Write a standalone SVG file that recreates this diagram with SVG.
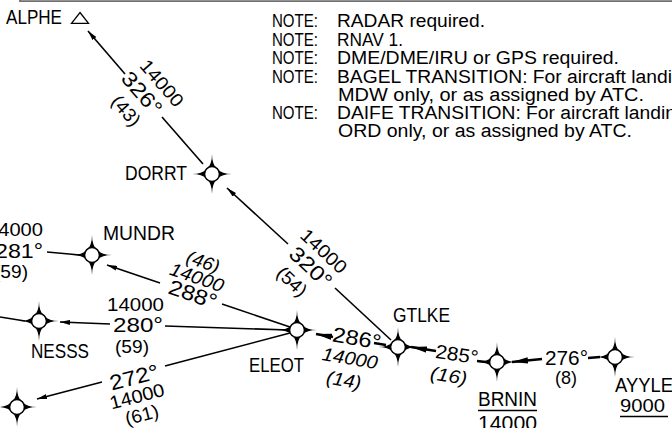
<svg xmlns="http://www.w3.org/2000/svg" xmlns:xlink="http://www.w3.org/1999/xlink" width="672" height="428" viewBox="0 0 672 428">
<style>
text{font-family:"Liberation Sans",Arial,sans-serif;fill:#000}
.note{font-size:18px}
.wpn{font-size:20px}
.alt{font-size:18.5px}
.brg{font-size:21px}
.brs{font-size:19.5px}
.dst{font-size:18.5px}
.it{font-style:italic}
.m{text-anchor:middle}
.e{text-anchor:end}
.ln{stroke:#000;stroke-width:1.6;fill:none}
.hv{stroke:#000;stroke-width:2.6;fill:none}
</style>
<defs>
<marker id="ah" viewBox="0 0 10 5" markerWidth="10" markerHeight="5" refX="10" refY="2.5" orient="auto" markerUnits="userSpaceOnUse"><path d="M0,0 L10,2.5 L0,5 Z" fill="#000"/></marker>
<marker id="ahH" viewBox="0 0 16 7" markerWidth="16" markerHeight="7" refX="16" refY="3.5" orient="auto" markerUnits="userSpaceOnUse"><path d="M0,0.3 L16,3.5 L0,6.7 Z" fill="#000"/></marker>
<g id="wp"><path d="M0,-20 Q0,0 20,0 Q0,0 0,20 Q0,0 -20,0 Q0,0 0,-20 Z" fill="#000"/><circle r="7.5" fill="#fff" stroke="#000" stroke-width="1.6"/></g>
</defs>
<rect width="672" height="428" fill="#fff"/>
<path d="M20,0 V1.2 H672" stroke="#707070" stroke-width="1.8" fill="none"/>

<g id="notes">
<text class="note" x="272" y="27.3" textLength="46" lengthAdjust="spacingAndGlyphs">NOTE:</text>
<text class="note" x="337" y="27.3" textLength="148" lengthAdjust="spacingAndGlyphs">RADAR required.</text>
<text class="note" x="272" y="45.7" textLength="46" lengthAdjust="spacingAndGlyphs">NOTE:</text>
<text class="note" x="337" y="45.7" textLength="66" lengthAdjust="spacingAndGlyphs">RNAV 1.</text>
<text class="note" x="272" y="64" textLength="46" lengthAdjust="spacingAndGlyphs">NOTE:</text>
<text class="note" x="337" y="64" textLength="282" lengthAdjust="spacingAndGlyphs">DME/DME/IRU or GPS required.</text>
<text class="note" x="272" y="82.5" textLength="46" lengthAdjust="spacingAndGlyphs">NOTE:</text>
<text class="note" x="337" y="82.5" textLength="335" lengthAdjust="spacingAndGlyphs">BAGEL TRANSITION: For aircraft landi</text>
<text class="note" x="338" y="100.7" textLength="306" lengthAdjust="spacingAndGlyphs">MDW only, or as assigned by ATC.</text>
<text class="note" x="272" y="119" textLength="46" lengthAdjust="spacingAndGlyphs">NOTE:</text>
<text class="note" x="337" y="119" textLength="339" lengthAdjust="spacingAndGlyphs">DAIFE TRANSITION: For aircraft landin</text>
<text class="note" x="338" y="137.3" textLength="294" lengthAdjust="spacingAndGlyphs">ORD only, or as assigned by ATC.</text>
</g>

<g id="connectors">
<path class="ln" d="M125,74 L88,31" marker-end="url(#ah)"/>
<path class="ln" d="M203,164 L162,117"/>
<path class="ln" d="M288,244 L227,188" marker-end="url(#ah)"/>
<path class="ln" d="M391,340 L335,288"/>
<path class="ln" d="M160,283 L107,265" marker-end="url(#ah)"/>
<path class="ln" d="M290,327 L222,304"/>
<path class="ln" d="M47,252 L80,255"/>
<path class="ln" d="M110,324 L60,322" marker-end="url(#ah)"/>
<path class="ln" d="M165,326 L289,330"/>
<path class="ln" d="M0,317 L25,321"/>
<path class="ln" d="M102,382 L37,399" marker-end="url(#ah)"/>
<path class="ln" d="M165,366 L290,333"/>
<path class="hv" d="M333,337 L316,334" marker-end="url(#ahH)"/>
<path class="hv" d="M374,343 L386,345"/>
<path class="hv" d="M436,351 L411,347" marker-end="url(#ahH)"/>
<path class="hv" d="M477,361 L486,362"/>
<path class="hv" d="M542,359 L512,362" marker-end="url(#ahH)"/>
<path class="hv" d="M588,358 L600,357"/>
</g>

<g id="route-labels">
<g transform="translate(142,93) rotate(49)">
<text class="alt m" x="5.6" y="-15" textLength="56" lengthAdjust="spacingAndGlyphs">14000</text>
<text class="brg m" x="0" y="7.5" textLength="50" lengthAdjust="spacingAndGlyphs">326°</text>
<text class="dst m" x="3" y="30" textLength="34" lengthAdjust="spacingAndGlyphs">(43)</text>
</g>
<g transform="translate(311,267) rotate(43)">
<text class="alt m" x="-1.4" y="-14" textLength="56" lengthAdjust="spacingAndGlyphs">14000</text>
<text class="brg m" x="0" y="7.5" textLength="50" lengthAdjust="spacingAndGlyphs">320°</text>
<text class="dst m" x="-4" y="30" textLength="34" lengthAdjust="spacingAndGlyphs">(54)</text>
</g>
<g transform="translate(193,294) rotate(19)">
<text class="dst m it" x="-1" y="-27.5" textLength="34" lengthAdjust="spacingAndGlyphs">(46)</text>
<text class="alt m it" x="-1.7" y="-10.8" textLength="56" lengthAdjust="spacingAndGlyphs">14000</text>
<text class="brg m" x="0" y="7.5" textLength="50" lengthAdjust="spacingAndGlyphs">288°</text>
</g>
<g>
<text class="alt e" x="43" y="236" textLength="56" lengthAdjust="spacingAndGlyphs">14000</text>
<text class="brg e" x="43" y="258" textLength="48" lengthAdjust="spacingAndGlyphs">281°</text>
<text class="dst e" x="28" y="278" textLength="34" lengthAdjust="spacingAndGlyphs">(59)</text>
</g>
<g>
<text class="alt" x="107" y="311" textLength="57" lengthAdjust="spacingAndGlyphs">14000</text>
<text class="brg" x="113" y="332" textLength="50" lengthAdjust="spacingAndGlyphs">280°</text>
<text class="dst" x="115" y="353" textLength="34" lengthAdjust="spacingAndGlyphs">(59)</text>
</g>
<g transform="translate(134,377) rotate(-14.6)">
<text class="brg m" x="0" y="7.5" textLength="50" lengthAdjust="spacingAndGlyphs">272°</text>
<text class="alt m" x="-2" y="25.8" textLength="56" lengthAdjust="spacingAndGlyphs">14000</text>
<text class="dst m" x="-2" y="45" textLength="34" lengthAdjust="spacingAndGlyphs">(61)</text>
</g>
<g transform="translate(357,338) rotate(9.5)">
<text class="brg m" x="0" y="7.5" textLength="49" lengthAdjust="spacingAndGlyphs">286°</text>
<text class="alt m it" x="-3.6" y="27.5" textLength="56" lengthAdjust="spacingAndGlyphs">14000</text>
<text class="dst m it" x="-6" y="50" textLength="35" lengthAdjust="spacingAndGlyphs">(14)</text>
</g>
<g transform="translate(457,354) rotate(8.6)">
<text class="brs m" x="0" y="7" textLength="43" lengthAdjust="spacingAndGlyphs">285°</text>
<text class="dst m it" x="-5" y="29" textLength="37" lengthAdjust="spacingAndGlyphs">(16)</text>
</g>
<g>
<text class="brs" x="545" y="365" textLength="43" lengthAdjust="spacingAndGlyphs">276°</text>
<text class="dst" x="555" y="384" textLength="22" lengthAdjust="spacingAndGlyphs">(8)</text>
</g>
</g>

<g id="ALPHE">
<text class="wpn" x="6" y="24" textLength="56" lengthAdjust="spacingAndGlyphs">ALPHE</text>
<polygon points="80,12.5 88.5,23.3 71.5,23.3" fill="none" stroke="#000" stroke-width="1.3"/>
</g>
<g id="DORRT"><use xlink:href="#wp" href="#wp" transform="translate(212,174)"/><text class="wpn" x="125" y="180" textLength="62" lengthAdjust="spacingAndGlyphs">DORRT</text></g>
<g id="MUNDR"><use xlink:href="#wp" href="#wp" transform="translate(92,255)"/><text class="wpn" x="103" y="240" textLength="72" lengthAdjust="spacingAndGlyphs">MUNDR</text></g>
<g id="NESSS"><use xlink:href="#wp" href="#wp" transform="translate(39,321)"/><text class="wpn" x="31" y="358" textLength="58" lengthAdjust="spacingAndGlyphs">NESSS</text></g>
<g id="SW-FIX"><use xlink:href="#wp" href="#wp" transform="translate(17,407)"/></g>
<g id="ELEOT"><use xlink:href="#wp" href="#wp" transform="translate(297,330)"/><text class="wpn" x="249" y="372" textLength="55" lengthAdjust="spacingAndGlyphs">ELEOT</text></g>
<g id="GTLKE"><use xlink:href="#wp" href="#wp" transform="translate(398,347)"/><text class="wpn" x="393" y="322" textLength="57" lengthAdjust="spacingAndGlyphs">GTLKE</text></g>
<g id="BRNIN"><use xlink:href="#wp" href="#wp" transform="translate(497,362)"/><text class="wpn" x="478" y="406" textLength="59" lengthAdjust="spacingAndGlyphs">BRNIN</text>
<path d="M478,410.5 H537" stroke="#000" stroke-width="1.4"/>
<text class="wpn" x="478" y="430" textLength="59" lengthAdjust="spacingAndGlyphs">14000</text></g>
<g id="AYYLE"><use xlink:href="#wp" href="#wp" transform="translate(615,357)"/><text class="wpn" x="615" y="392" textLength="58" lengthAdjust="spacingAndGlyphs">AYYLE</text>
<text class="alt" x="620" y="411.5" textLength="45" lengthAdjust="spacingAndGlyphs">9000</text>
<path d="M620,416.5 H668" stroke="#000" stroke-width="1.4"/></g>
</svg>
